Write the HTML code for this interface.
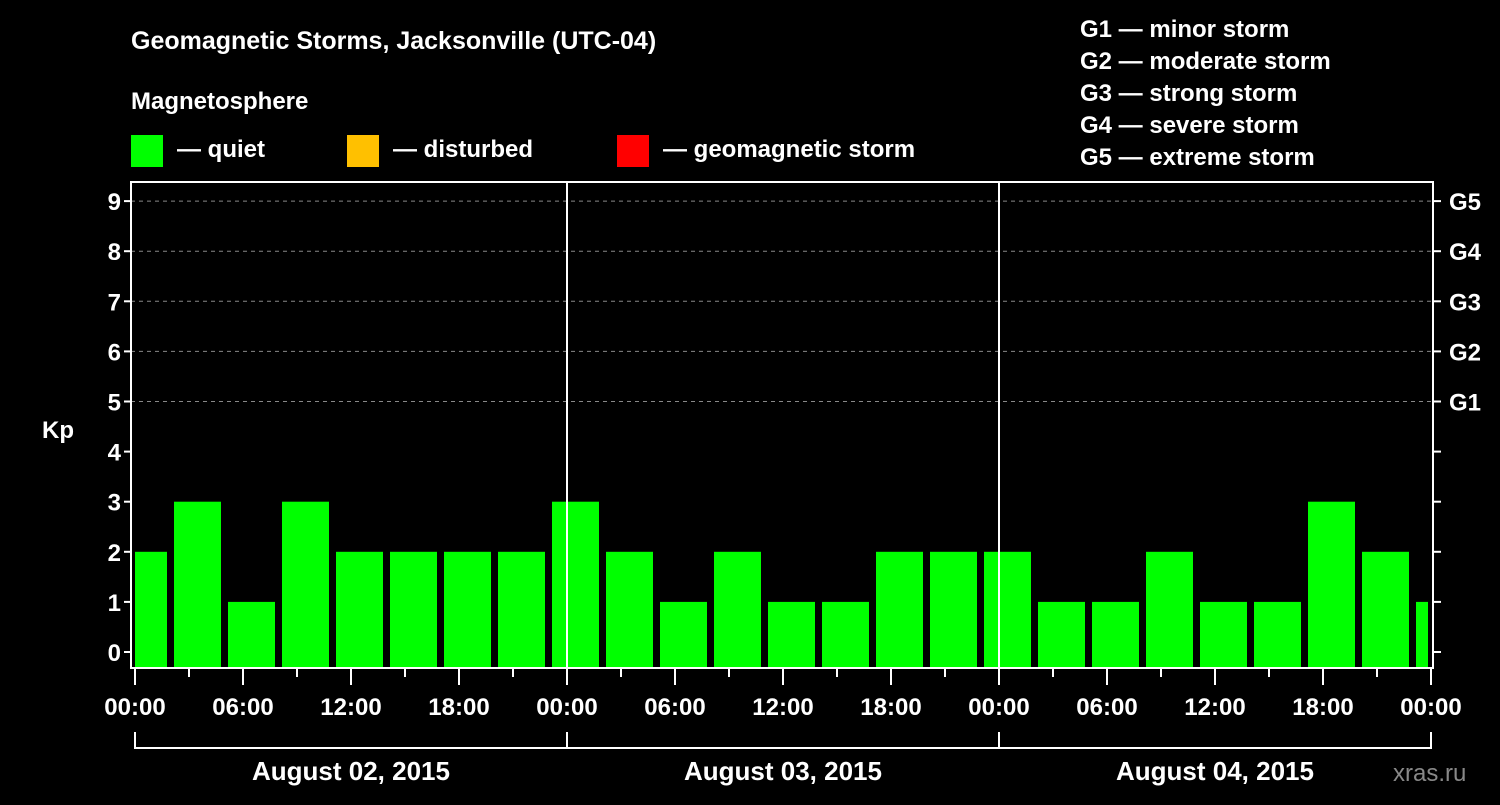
<!DOCTYPE html>
<html><head><meta charset="utf-8"><style>
body{margin:0;background:#000;width:1500px;height:800px;overflow:hidden}
text{font-family:"Liberation Sans",Arial,sans-serif;font-weight:bold;fill:#fff}
</style></head><body>
<svg id="c" width="1500" height="800" xmlns="http://www.w3.org/2000/svg">
<text x="131" y="49" font-size="25">Geomagnetic Storms, Jacksonville (UTC-04)</text>
<text x="131" y="109" font-size="24">Magnetosphere</text>
<g><rect x="131" y="135" width="32" height="32" fill="#00ff00"/><text x="177" y="157" font-size="24">— quiet</text></g>
<g><rect x="347" y="135" width="32" height="32" fill="#ffc000"/><text x="393" y="157" font-size="24">— disturbed</text></g>
<g><rect x="617" y="135" width="32" height="32" fill="#ff0000"/><text x="663" y="157" font-size="24">— geomagnetic storm</text></g>
<g font-size="24">
<text x="1080" y="37">G1 — minor storm</text>
<text x="1080" y="69">G2 — moderate storm</text>
<text x="1080" y="101">G3 — strong storm</text>
<text x="1080" y="133">G4 — severe storm</text>
<text x="1080" y="165">G5 — extreme storm</text>
</g>
<text x="42" y="438" font-size="24">Kp</text>
<text x="1393" y="781" font-size="24" fill="#888" style="fill:#888;font-weight:normal">xras.ru</text>
<g id="grid"></g><g id="bars"></g><g id="axes"></g>
</svg>
<script>
const values=[2,3,1,3,2,2,2,2,3,2,1,2,1,1,2,2,2,1,1,2,1,1,3,2,1];
const startHours=[-1,2,5,8,11,14,17,20,23,26,29,32,35,38,41,44,47,50,53,56,59,62,65,68,71];
const yTicks=[0,1,2,3,4,5,6,7,8,9];
const gLabels=["G1","G2","G3","G4","G5"];
const gLevels=[5,6,7,8,9];
const timeLabels=["00:00","06:00","12:00","18:00"];
const dayLabels=["August 02, 2015","August 03, 2015","August 04, 2015"];
const NS="http://www.w3.org/2000/svg";
const X0=135,PH=18,L=131,R=1433,T=182,B=668;
const xs=h=>X0+PH*h, ys=v=>652-50.1*v;
function mk(tag,attrs,parent,txt){const e=document.createElementNS(NS,tag);for(const k in attrs)e.setAttribute(k,attrs[k]);if(txt!==undefined)e.textContent=txt;parent.appendChild(e);return e;}
const grid=document.getElementById('grid'),bars=document.getElementById('bars'),axes=document.getElementById('axes');
gLevels.forEach((v,i)=>{
 const l=mk('line',{x1:L,x2:R,y1:ys(v),y2:ys(v),stroke:'#888','stroke-dasharray':'4,4','stroke-width':1},grid);
 
 
 const t=mk('text',{x:1449,y:ys(v)+9,'font-size':24},axes,gLabels[i]);
 
 
});
values.forEach((v,i)=>{
 const h0=startHours[i],h1=h0+3;
 const x1=h0<0?xs(0):xs(h0)+3, x2=h1>72?xs(72)-3:xs(h1)-4;
 const col=v>=5?'#ff0000':(v>=4?'#ffc000':'#00ff00');
 const r=mk('rect',{x:x1,y:ys(v),width:x2-x1,height:667-ys(v),fill:col},bars);
 
 
});
// frame
const f=mk('path',{d:`M${L} ${T}H${R}V${B}H${L}Z`,fill:'none',stroke:'#fff','stroke-width':2},axes);


[1,2].forEach(d=>{const l=mk('line',{x1:xs(24*d),x2:xs(24*d),y1:T,y2:B,stroke:'#fff','stroke-width':2},axes);
 
 });
yTicks.forEach(v=>{
 mk('line',{x1:L-7,x2:L,y1:ys(v),y2:ys(v),stroke:'#fff','stroke-width':2},axes);
 mk('line',{x1:R,x2:R+8,y1:ys(v),y2:ys(v),stroke:'#fff','stroke-width':2},axes);
 const t=mk('text',{x:L-10,y:ys(v)+9,'font-size':24,'text-anchor':'end'},axes,String(v));
 
 
});
for(let h=0;h<=72;h+=3){
 const major=h%6===0;
 mk('line',{x1:xs(h),x2:xs(h),y1:B,y2:B+(major?17:9),stroke:'#fff','stroke-width':2},axes);
 if(major){const t=mk('text',{x:xs(h),y:715,'font-size':24,'text-anchor':'middle'},axes,timeLabels[(h/6)%4]);
  
  }
}
mk('path',{d:`M${xs(0)} 732V748H${xs(72)}V732M${xs(24)} 732V748M${xs(48)} 732V748`,fill:'none',stroke:'#fff','stroke-width':2},axes);
dayLabels.forEach((d,i)=>{const t=mk('text',{x:xs(24*i+12),y:780,'font-size':26,'text-anchor':'middle'},axes,d);
 
 });
</script>
</body></html>
